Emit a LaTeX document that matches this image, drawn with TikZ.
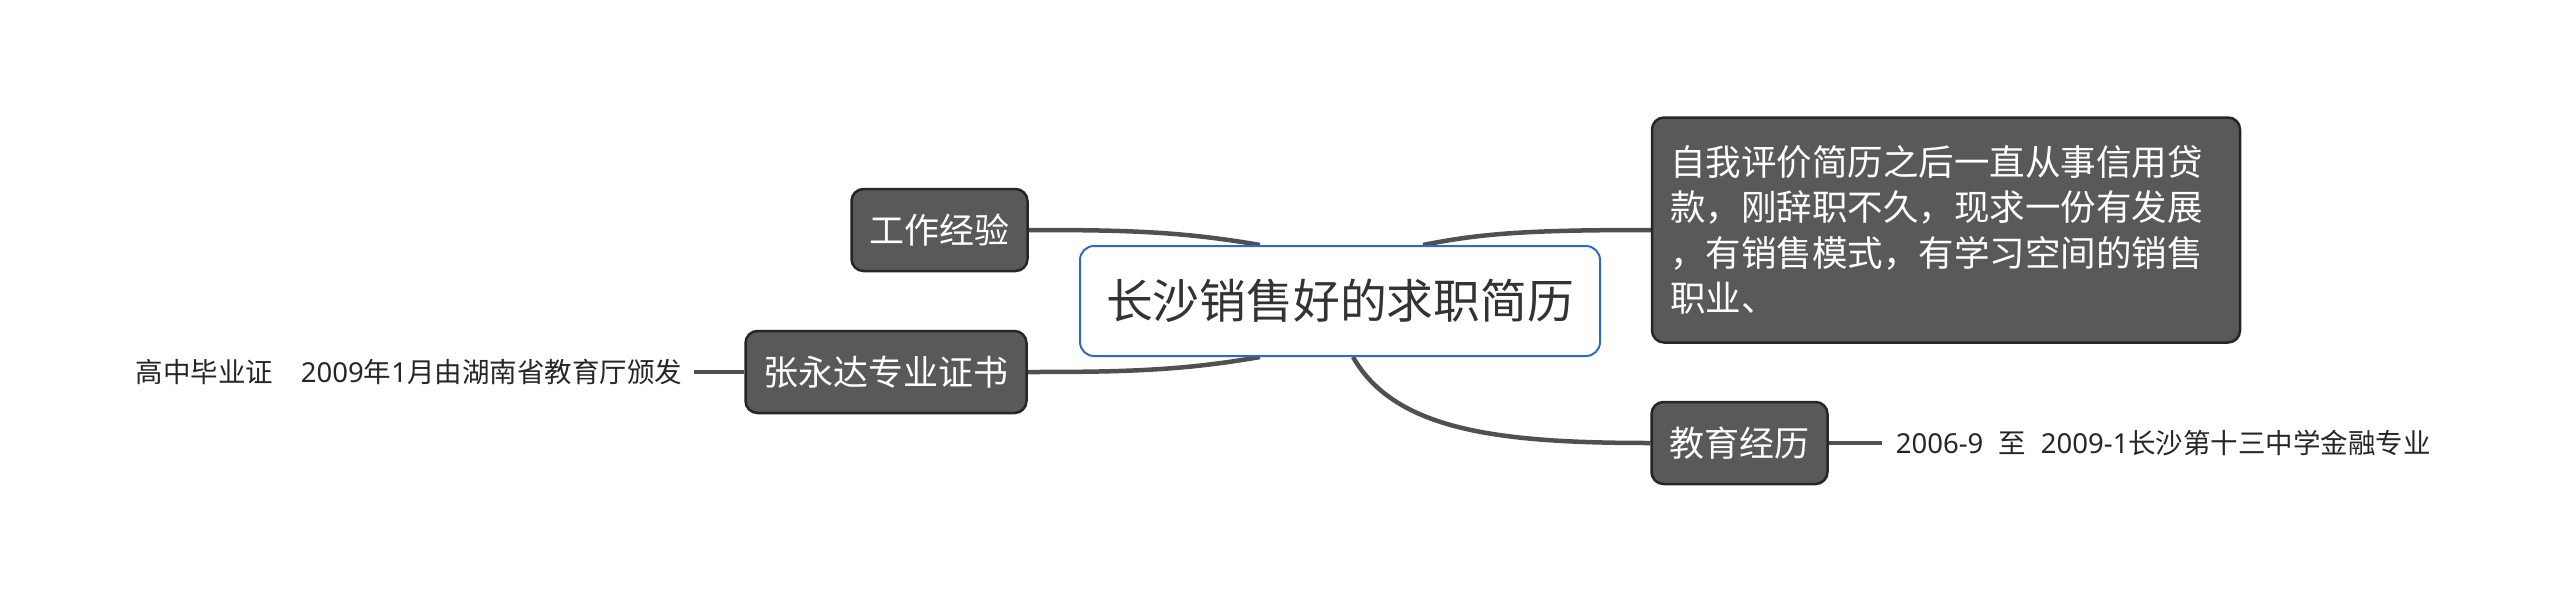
\documentclass[tikz,border=0pt]{standalone}
\usepackage{fontspec}
\setmainfont{Noto Sans CJK SC}
\newfontfamily\latinfont{Noto Sans}
\usetikzlibrary{positioning,backgrounds}
\definecolor{leafgray}{HTML}{595959}
\definecolor{linegray}{HTML}{505050}
\definecolor{topicblue}{HTML}{2F6BC6}
\definecolor{textgray}{HTML}{333333}
\newcommand{\num}[1]{{\latinfont #1}}

\begin{document}
\begin{tikzpicture}[x=1pt,y=-1pt,
  topic/.style={draw=topicblue,line width=2pt,rounded corners=14pt,fill=white,minimum width=520pt,minimum height=110pt,font=\fontsize{46.8}{56}\selectfont,text=textgray},
  leaf/.style={draw=black!85,line width=2.5pt,rounded corners=12pt,fill=leafgray,text=white,minimum height=82pt,inner xsep=18pt,font=\fontsize{35}{42}\selectfont},
  note/.style={inner xsep=12pt,inner ysep=0pt,text=black!85,font=\fontsize{27.5}{32}\selectfont},
  branch/.style={draw=linegray,line width=4.5pt},
  twig/.style={draw=linegray,line width=3.5pt}]
  \useasboundingbox (0,0) rectangle (2560,603);

  \node[topic] (root) at (1340,301) {长沙销售好的求职简历};
  \node[leaf] (work) at (939.5,230) {工作经验};
  \node[leaf] (cert) at (886,372) {张永达专业证书};
  \node[leaf,text width=552pt,align=left,minimum height=225pt,font=\fontsize{35.5}{45.5}\selectfont] (self) at (1946,230)
    {自我评价简历之后一直从事信用贷\\款，刚辞职不久，现求一份有发展\\，有销售模式，有学习空间的销售\\职业、};
  \node[leaf] (edu) at (1739.5,443) {教育经历};

  \node[note,left=50pt of cert] (certnote) {高中毕业证　\num{2009}年\num{1}月由湖南省教育厅颁发};
  \node[note,right=53pt of edu,inner xsep=14pt] (edunote) {\num{2006-9}\hspace{15pt}至\hspace{15pt}\num{2009-1}长沙第十三中学金融专业};

  \begin{scope}[on background layer]
    \fill[white] (0,0) rectangle (2560,603);
    \draw[branch] ([xshift=-80pt]root.north) .. controls +(-80,-14) and +(92,0) .. (work.east);
    \draw[branch] ([xshift=-80pt]root.south) .. controls +(-80,14) and +(92,0) .. (cert.east);
    \draw[branch] ([xshift=83pt]root.north) .. controls +(60,-12) and +(-120,0) .. (self.west);
    \draw[branch] ([xshift=13pt]root.south) .. controls +(42,74) and +(-150,0) .. (edu.west);
    \draw[twig] (certnote.east) -- (cert.west);
    \draw[twig] (edu.east) -- (edunote.west);
  \end{scope}
\end{tikzpicture}
\end{document}
